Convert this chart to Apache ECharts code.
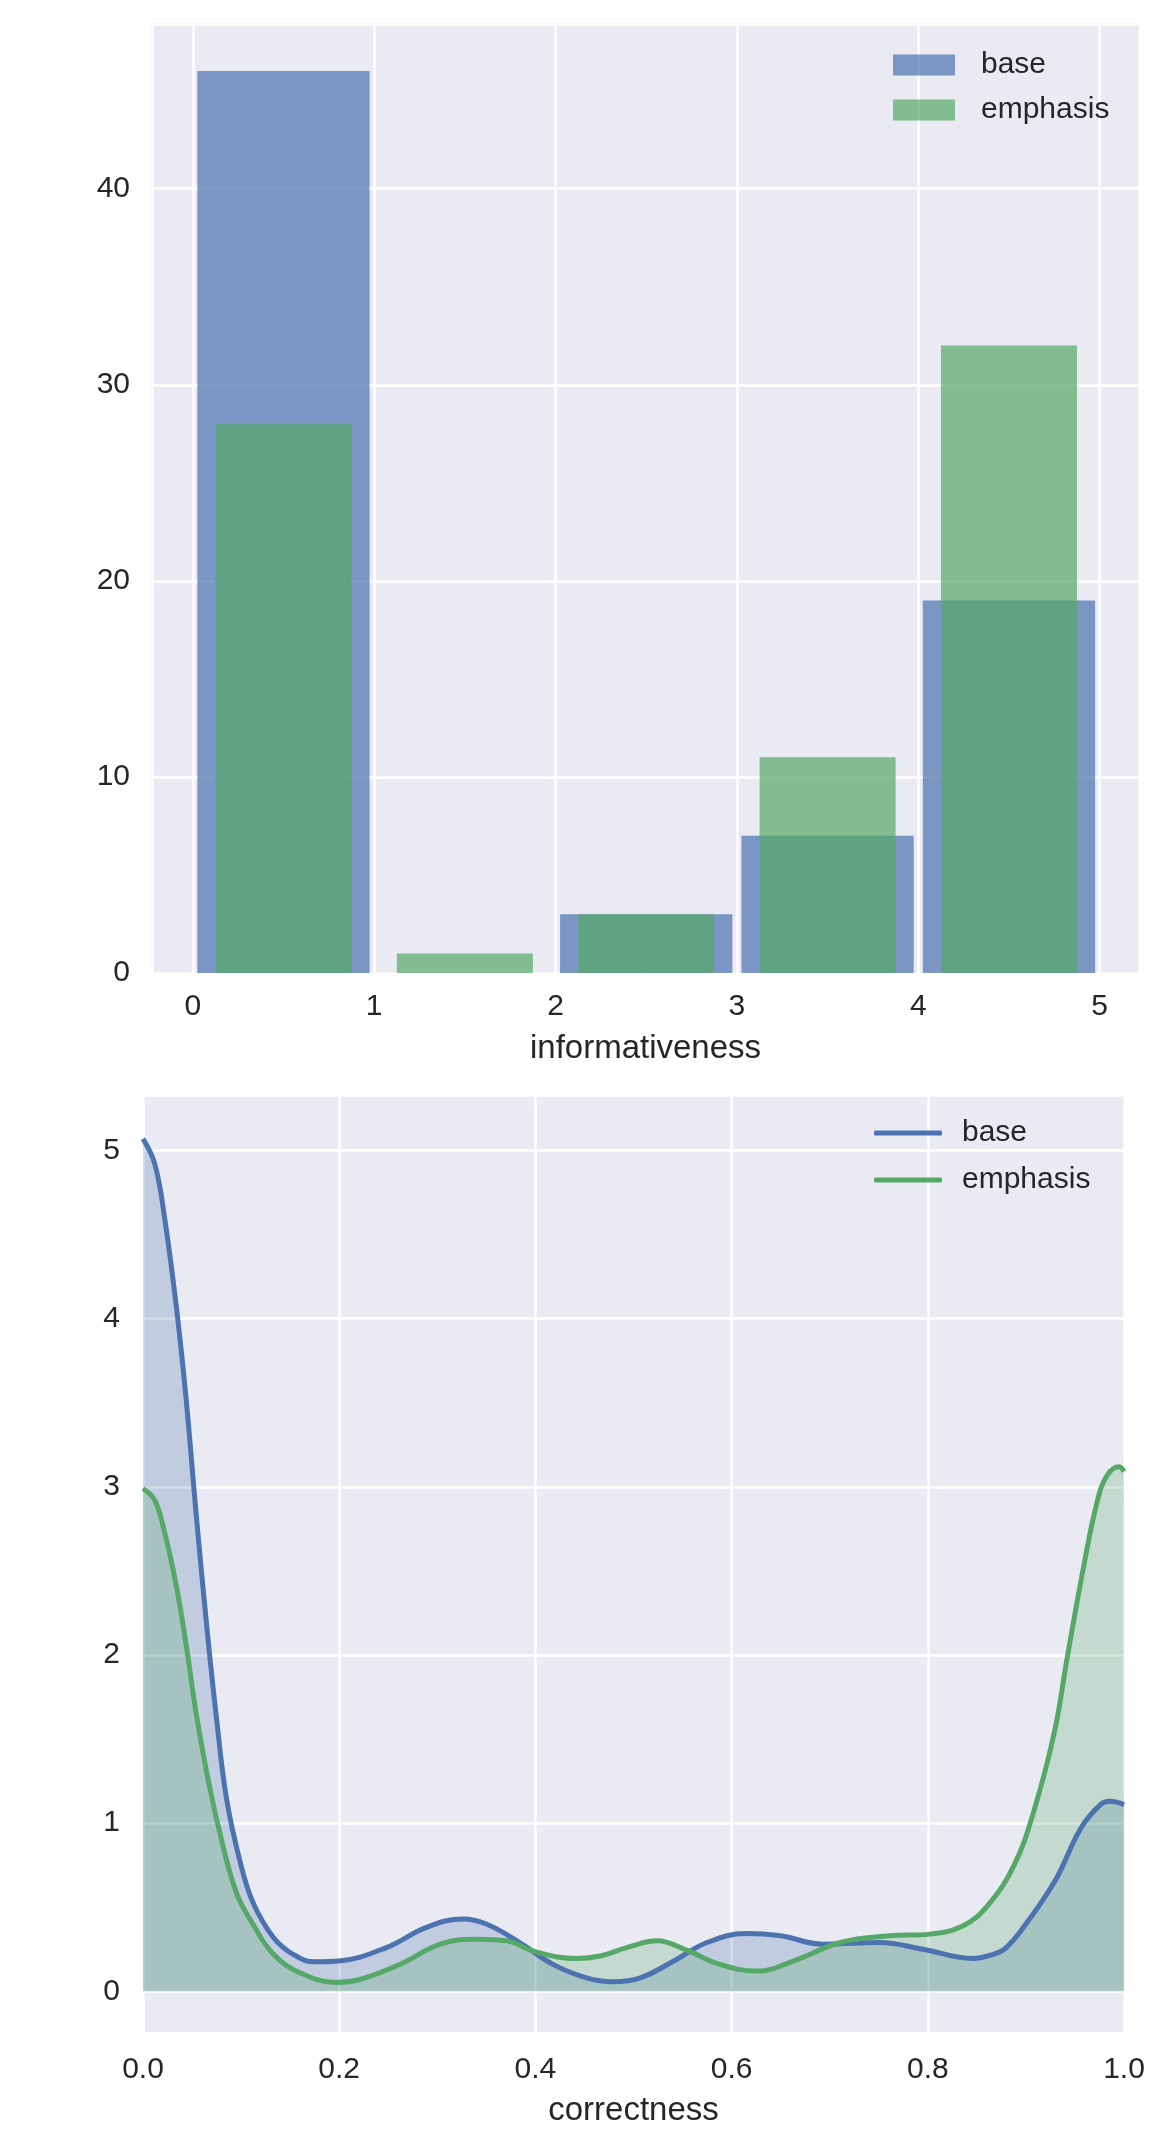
<!DOCTYPE html>
<html>
<head>
<meta charset="utf-8">
<script src="https://cdn.jsdelivr.net/npm/echarts@6/dist/echarts.min.js"></script>
<style>
  html, body { margin: 0; padding: 0; background: #fff; }
  #hist { width: 1166px; height: 1080px; }
  #kde { width: 1166px; height: 1052px; }
</style>
</head>
<body>
<div id="hist"></div>
<div id="kde"></div>
<script>
// histogram of informativeness
var binEdges = [0, 1, 2, 3, 4, 5]
var baseCounts = [46, 0, 3, 7, 19]
var emphasisCounts = [28, 1, 3, 11, 32]

// kde of correctness
var baseX = [0, 0.012, 0.022, 0.034, 0.044, 0.054, 0.065, 0.075, 0.085, 0.099, 0.112, 0.133, 0.153, 0.175, 0.2,
  0.248, 0.289, 0.326, 0.35, 0.384, 0.418, 0.452, 0.479, 0.507, 0.541, 0.575, 0.615, 0.65, 0.693, 0.751,
  0.795, 0.846, 0.867, 0.88, 0.9, 0.93, 0.956, 0.976, 0.986, 1.0]
var baseDensity = [5.07, 4.92, 4.60, 4.07, 3.52, 2.85, 2.17, 1.62, 1.15, 0.77, 0.53, 0.32, 0.22, 0.175, 0.18,
  0.26, 0.38, 0.43, 0.40, 0.29, 0.16, 0.08, 0.057, 0.08, 0.18, 0.29, 0.344, 0.33, 0.28, 0.29,
  0.25, 0.195, 0.22, 0.26, 0.40, 0.66, 0.97, 1.11, 1.13, 1.11]
var emphasisX = [0, 0.012, 0.022, 0.034, 0.044, 0.054, 0.065, 0.078, 0.095, 0.112, 0.133, 0.16, 0.197, 0.221,
  0.262, 0.303, 0.34, 0.371, 0.4, 0.442, 0.466, 0.493, 0.524, 0.554, 0.588, 0.626, 0.663, 0.711, 0.761,
  0.802, 0.836, 0.861, 0.888, 0.908, 0.929, 0.942, 0.959, 0.973, 0.983, 0.995, 1.0]
var emphasisDensity = [2.99, 2.92, 2.73, 2.41, 2.06, 1.66, 1.30, 0.95, 0.59, 0.40, 0.22, 0.11, 0.053, 0.07,
  0.16, 0.28, 0.31, 0.30, 0.235, 0.195, 0.21, 0.26, 0.30, 0.245, 0.16, 0.12, 0.18, 0.29, 0.33,
  0.34, 0.39, 0.51, 0.75, 1.07, 1.54, 1.98, 2.53, 2.92, 3.07, 3.12, 3.09]

var FONT = "'Liberation Sans', Arial, sans-serif"
var TEXT = '#262626'
var BLUE = '#4C72B0'
var GREEN = '#55A868'

function isWhole(v, step) {
  var r = v / step
  return Math.abs(r - Math.round(r)) < 1e-6
}

function barRenderer(frac, color) {
  return function(params, api) {
    var x0 = api.value(0)
    var x1 = api.value(1)
    var c = api.value(2)
    var mid = (x0 + x1) / 2
    var half = (x1 - x0) * frac / 2
    var p0 = api.coord([mid - half, c])
    var p1 = api.coord([mid + half, 0])
    return {
      type: 'rect',
      shape: { x: p0[0], y: p0[1], width: p1[0] - p0[0], height: p1[1] - p0[1] },
      style: { fill: color, opacity: 0.7 }
    }
  }
}

function binData(counts) {
  return counts.map(function(c, i) { return [binEdges[i], binEdges[i + 1], c] })
}

function pairs(xs, ys) {
  return xs.map(function(x, i) { return [x, ys[i]] })
}

var histChart = echarts.init(document.getElementById('hist'))
histChart.setOption({
  animation: false,
  textStyle: { fontFamily: FONT },
  grid: {
    left: 152, top: 24, width: 987, height: 949,
    show: true, backgroundColor: '#EAEAF2', borderColor: '#cfcfcf', borderWidth: 1
  },
  legend: {
    left: 893, top: 50, orient: 'vertical', padding: 0,
    itemWidth: 62, itemHeight: 21, itemGap: 15, icon: 'rect',
    textStyle: { color: TEXT, fontSize: 30, lineHeight: 30, fontFamily: FONT, padding: [0, 0, 0, 21] },
    data: [
      { name: 'base', itemStyle: { color: BLUE, opacity: 0.7 } },
      { name: 'emphasis', itemStyle: { color: GREEN, opacity: 0.7 } }
    ]
  },
  xAxis: {
    type: 'value', min: -0.225, max: 5.217,
    name: 'informativeness', nameLocation: 'middle', nameGap: 59,
    nameTextStyle: { color: TEXT, fontSize: 33, fontFamily: FONT },
    axisLine: { show: false }, axisTick: { show: false },
    axisLabel: {
      color: TEXT, fontSize: 30, margin: 19, fontFamily: FONT,
      formatter: function(v) { return isWhole(v, 1) ? String(Math.round(v)) : '' }
    },
    splitLine: { show: true, lineStyle: { color: '#ffffff', width: 2.5 } }
  },
  yAxis: {
    type: 'value', min: 0, max: 48.4, interval: 10,
    axisLine: { show: false }, axisTick: { show: false },
    axisLabel: {
      color: TEXT, fontSize: 30, margin: 22, fontFamily: FONT,
      formatter: function(v) { return isWhole(v, 10) ? String(Math.round(v)) : '' }
    },
    splitLine: { show: true, lineStyle: { color: '#ffffff', width: 2.5 } }
  },
  series: [
    {
      name: 'base', type: 'custom', renderItem: barRenderer(0.95, BLUE),
      itemStyle: { color: BLUE, opacity: 0.7 },
      encode: { x: [0, 1], y: 2 }, data: binData(baseCounts)
    },
    {
      name: 'emphasis', type: 'custom', renderItem: barRenderer(0.75, GREEN),
      itemStyle: { color: GREEN, opacity: 0.7 },
      encode: { x: [0, 1], y: 2 }, data: binData(emphasisCounts)
    }
  ]
})

var kdeChart = echarts.init(document.getElementById('kde'))
kdeChart.setOption({
  animation: false,
  textStyle: { fontFamily: FONT },
  grid: {
    left: 143, top: 15, width: 981, height: 946,
    show: true, backgroundColor: '#EAEAF2', borderWidth: 0
  },
  legend: {
    left: 874, top: 38, orient: 'vertical', padding: 0,
    itemWidth: 68, itemHeight: 5, itemGap: 17, icon: 'roundRect',
    textStyle: { color: TEXT, fontSize: 30, lineHeight: 30, fontFamily: FONT, padding: [0, 0, 0, 15] },
    data: [
      { name: 'base', itemStyle: { color: BLUE } },
      { name: 'emphasis', itemStyle: { color: GREEN } }
    ]
  },
  xAxis: {
    type: 'value', min: 0, max: 1, interval: 0.2,
    name: 'correctness', nameLocation: 'middle', nameGap: 61,
    nameTextStyle: { color: TEXT, fontSize: 33, fontFamily: FONT },
    axisLine: { show: false }, axisTick: { show: false },
    axisLabel: {
      color: TEXT, fontSize: 30, margin: 22, fontFamily: FONT,
      formatter: function(v) { return v.toFixed(1) }
    },
    splitLine: { show: true, lineStyle: { color: '#ffffff', width: 2.5 } }
  },
  yAxis: {
    type: 'value', min: -0.248, max: 5.33,
    axisLine: { show: false }, axisTick: { show: false },
    axisLabel: {
      color: TEXT, fontSize: 30, margin: 23, fontFamily: FONT,
      formatter: function(v) { return isWhole(v, 1) ? String(Math.round(v)) : '' }
    },
    splitLine: { show: true, lineStyle: { color: '#ffffff', width: 2.5 } }
  },
  series: [
    {
      name: 'base', type: 'line', smooth: 0.4, showSymbol: false,
      lineStyle: { color: BLUE, width: 5 }, itemStyle: { color: BLUE },
      areaStyle: { color: BLUE, opacity: 0.25 },
      data: pairs(baseX, baseDensity)
    },
    {
      name: 'emphasis', type: 'line', smooth: 0.4, showSymbol: false,
      lineStyle: { color: GREEN, width: 5 }, itemStyle: { color: GREEN },
      areaStyle: { color: GREEN, opacity: 0.25 },
      data: pairs(emphasisX, emphasisDensity)
    }
  ]
})
</script>
</body>
</html>
